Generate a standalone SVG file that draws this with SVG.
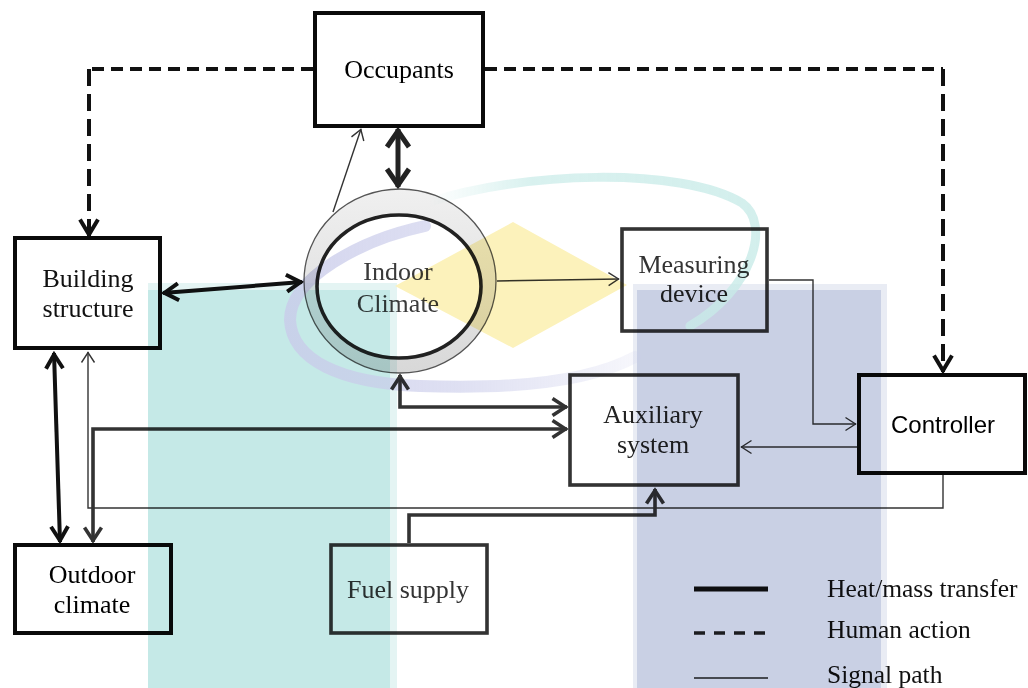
<svg xmlns="http://www.w3.org/2000/svg" width="1028" height="688" viewBox="0 0 1028 688">
  <style>
    .serif { font-family: "Liberation Serif", "Times New Roman", serif; font-size: 26px; text-anchor: middle; }
    .sans { font-family: "Liberation Sans", Arial, sans-serif; font-size: 24px; text-anchor: middle; }
    .legend { font-family: "Liberation Serif", "Times New Roman", serif; font-size: 25.5px; fill: #111; }
    .boxK { fill: #fff; stroke: #0a0a0a; stroke-width: 4; }
    .boxG { fill: #fff; stroke: #333; stroke-width: 3.6; }
    .heatK { fill: none; stroke: #111; stroke-width: 4; }
    .heatG { fill: none; stroke: #333; stroke-width: 3.6; }
    .human { fill: none; stroke: #111; stroke-width: 4; }
    .signal { fill: none; stroke: #333; stroke-width: 1.4; }
  </style>
  <defs>
    <marker id="ahK" viewBox="-20 -12 24 24" refX="1.5" refY="0" markerWidth="24" markerHeight="24" markerUnits="userSpaceOnUse" orient="auto-start-reverse">
      <path d="M-14,-8.5 L0,0 L-14,8.5" fill="none" stroke="#111" stroke-width="4"/>
    </marker>
    <marker id="ahG" viewBox="-20 -12 24 24" refX="1.5" refY="0" markerWidth="24" markerHeight="24" markerUnits="userSpaceOnUse" orient="auto-start-reverse">
      <path d="M-13,-8.5 L0,0 L-13,8.5" fill="none" stroke="#333" stroke-width="3.6"/>
    </marker>
    <marker id="ahBig" viewBox="-20 -14 24 28" refX="2" refY="0" markerWidth="24" markerHeight="28" markerUnits="userSpaceOnUse" orient="auto-start-reverse">
      <path d="M-16,-11 L0,0 L-16,11" fill="none" stroke="#222" stroke-width="5"/>
    </marker>
    <marker id="ahH" viewBox="-20 -12 24 24" refX="1.5" refY="0" markerWidth="24" markerHeight="24" markerUnits="userSpaceOnUse" orient="auto">
      <path d="M-15,-9 L0,0 L-15,9" fill="none" stroke="#111" stroke-width="4"/>
    </marker>
    <marker id="ahS" viewBox="-12 -8 14 16" refX="0.5" refY="0" markerWidth="14" markerHeight="16" markerUnits="userSpaceOnUse" orient="auto">
      <path d="M-10,-6.5 L0,0 L-10,6.5" fill="none" stroke="#333" stroke-width="1.4"/>
    </marker>
    <linearGradient id="ringFill" x1="0" y1="0" x2="0" y2="1">
      <stop offset="0" stop-color="#f0f0f0"/>
      <stop offset="1" stop-color="#d8d8d8"/>
    </linearGradient>
    <linearGradient id="tealArc" gradientUnits="userSpaceOnUse" x1="430" y1="0" x2="770" y2="0">
      <stop offset="0" stop-color="#c8ebe8" stop-opacity="0"/>
      <stop offset="0.3" stop-color="#c8ebe8" stop-opacity="0.7"/>
      <stop offset="1" stop-color="#c8ebe8" stop-opacity="0.8"/>
    </linearGradient>
    <linearGradient id="lavArc" gradientUnits="userSpaceOnUse" x1="280" y1="0" x2="640" y2="0">
      <stop offset="0" stop-color="#c9cbea" stop-opacity="0.8"/>
      <stop offset="0.5" stop-color="#c9cbea" stop-opacity="0.6"/>
      <stop offset="1" stop-color="#c9cbea" stop-opacity="0.15"/>
    </linearGradient>
  </defs>

  <rect width="1028" height="688" fill="#fff"/>

  <!-- connectors -->
  <g id="connectors">
    <!-- human action (dashed) -->
    <path class="human" d="M313,69 H89" stroke-dasharray="12 7"/>
    <path class="human" d="M89,69 V236" stroke-dasharray="17 8" marker-end="url(#ahH)"/>
    <path class="human" d="M485,69 H943" stroke-dasharray="12 7"/>
    <path class="human" d="M943,69 V372" stroke-dasharray="17 8" marker-end="url(#ahH)"/>

    <!-- heat / mass transfer -->
    <path d="M398,129 V187" fill="none" stroke="#222" stroke-width="5" marker-start="url(#ahBig)" marker-end="url(#ahBig)"/>
    <path class="heatK" d="M163,293 L302,282" marker-start="url(#ahK)" marker-end="url(#ahK)"/>
    <path class="heatK" d="M54,353 L60,542" marker-start="url(#ahK)" marker-end="url(#ahK)"/>
    <path class="heatG" d="M400,375 V407 H567" marker-start="url(#ahG)" marker-end="url(#ahG)"/>
    <path class="heatG" d="M93,542 V429 H567" marker-start="url(#ahG)" marker-end="url(#ahG)"/>
    <path class="heatG" d="M409,543 V515 H655 V489" marker-end="url(#ahG)"/>

    <!-- signal paths -->
    <path class="signal" d="M333,212 L361,129" marker-end="url(#ahS)"/>
    <path class="signal" d="M497,281 L619,279" marker-end="url(#ahS)"/>
    <path class="signal" d="M769,280 H813 V424 H856" marker-end="url(#ahS)"/>
    <path class="signal" d="M857,447 H741" marker-end="url(#ahS)"/>
    <path class="signal" d="M943,475 V508 H88 V352" marker-end="url(#ahS)"/>
  </g>

  <!-- nodes -->
  <g id="occupants">
    <rect class="boxK" x="315" y="13" width="168" height="113"/>
    <text class="serif" x="399" y="78" fill="#000">Occupants</text>
  </g>

  <g id="building-structure">
    <rect class="boxK" x="15" y="238" width="145" height="110"/>
    <text class="serif" x="88" y="287" fill="#111">Building</text>
    <text class="serif" x="88" y="317" fill="#111">structure</text>
  </g>

  <g id="indoor-climate">
    <ellipse cx="400" cy="281" rx="96" ry="92" fill="url(#ringFill)" stroke="#555" stroke-width="1.3"/>
    <ellipse cx="399" cy="286.5" rx="82" ry="71.5" fill="#fff" stroke="#222" stroke-width="3.6"/>
    <text class="serif" x="398" y="280" fill="#3a3a3a">Indoor</text>
    <text class="serif" x="398" y="312" fill="#3a3a3a">Climate</text>
  </g>

  <g id="measuring-device">
    <rect class="boxG" x="622" y="229" width="145" height="102"/>
    <text class="serif" x="694" y="273" fill="#333">Measuring</text>
    <text class="serif" x="694" y="302" fill="#222">device</text>
  </g>

  <g id="auxiliary-system">
    <rect class="boxG" x="570" y="375" width="168" height="110"/>
    <text class="serif" x="653" y="423" fill="#222">Auxiliary</text>
    <text class="serif" x="653" y="453" fill="#222">system</text>
  </g>

  <g id="controller">
    <rect class="boxK" x="859" y="375" width="166" height="98"/>
    <text class="sans" x="943" y="433" fill="#000">Controller</text>
  </g>

  <g id="outdoor-climate">
    <rect class="boxK" x="15" y="545" width="156" height="88"/>
    <text class="serif" x="92" y="583" fill="#000">Outdoor</text>
    <text class="serif" x="92" y="613" fill="#000">climate</text>
  </g>

  <g id="fuel-supply">
    <rect class="boxG" x="331" y="545" width="156" height="88" stroke="#444"/>
    <text class="serif" x="408" y="598" fill="#333">Fuel supply</text>
  </g>

  <!-- legend -->
  <g id="legend">
    <line x1="694" y1="589" x2="768" y2="589" stroke="#111" stroke-width="5"/>
    <line x1="694" y1="633" x2="768" y2="633" stroke="#222" stroke-width="3.5" stroke-dasharray="11 9"/>
    <line x1="694" y1="678" x2="768" y2="678" stroke="#222" stroke-width="1.5"/>
    <text class="legend" x="827" y="597">Heat/mass transfer</text>
    <text class="legend" x="827" y="638">Human action</text>
    <text class="legend" x="827" y="683">Signal path</text>
  </g>

  <!-- background logo tint, multiplied over the drawing -->
  <g id="logo-tint" style="mix-blend-mode:multiply">
    <rect x="148" y="283" width="249" height="405" fill="#e4f4f3"/>
    <rect x="148" y="290" width="242" height="398" fill="#c5e9e7"/>
    <rect x="633" y="284" width="254" height="404" fill="#e9ecf4"/>
    <rect x="637" y="290" width="244" height="398" fill="#c9d0e4"/>
    <path d="M395,286 L513,222 L627,285 L513,348 Z" fill="#fcf2bb"/>
    <path d="M430,202 C520,172 680,166 742,203 C772,224 752,290 690,326" fill="none" stroke="url(#tealArc)" stroke-width="9" stroke-linecap="round"/>
    <path d="M425,226 C360,240 290,278 290,320 C292,360 340,383 420,386 C500,389 585,384 635,357" fill="none" stroke="url(#lavArc)" stroke-width="12" stroke-linecap="round"/>
  </g>
</svg>
